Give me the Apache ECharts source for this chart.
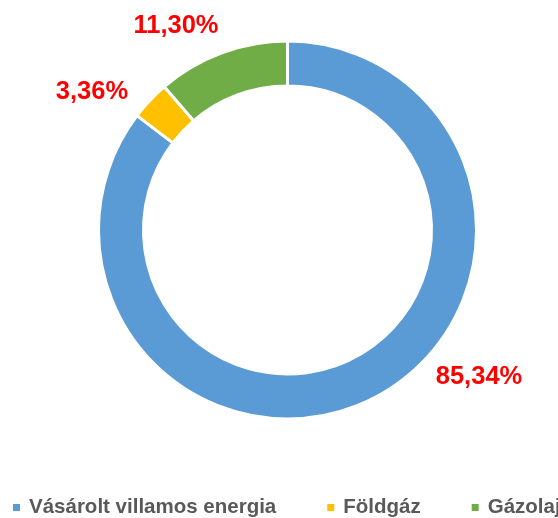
<!DOCTYPE html>
<html>
<head>
<meta charset="utf-8">
<script src="https://cdn.jsdelivr.net/npm/echarts@6/dist/echarts.min.js"></script>
<style>
  html, body { margin: 0; padding: 0; background: #fff; }
  #chart { width: 558px; height: 518px; }
</style>
</head>
<body>
<div id="chart"></div>
<script>
const categories = ['Vásárolt villamos energia', 'Földgáz', 'Gázolaj']
const values = [85.34, 3.36, 11.30]
const labels = ['85,34%', '3,36%', '11,30%']
const colors = ['#5B9BD5', '#FFC000', '#70AD47']
// where Excel put each data label (centre of text)
const labelPos = [[479, 377], [92, 92], [176, 26]]

const chart = echarts.init(document.getElementById('chart'))
const option = {
  animation: false,
  color: colors,
  legend: {
    top: 497,
    left: 11,
    width: 620,
    padding: 0,
    itemWidth: 9,
    itemHeight: 9,
    itemGap: 49,
    icon: 'rect',
    textStyle: {
      fontFamily: 'Liberation Sans',
      fontWeight: 'bold',
      fontSize: 20.5,
      color: '#595959',
      padding: [0, 0, 0, 3]
    },
    data: categories
  },
  series: [{
    type: 'pie',
    center: [287.5, 230],
    radius: [144, 189],
    startAngle: 90,
    clockwise: true,
    itemStyle: { borderColor: '#fff', borderWidth: 3 },
    label: {
      show: true,
      position: 'outside',
      formatter: p => labels[p.dataIndex],
      fontFamily: 'Liberation Sans',
      fontWeight: 'bold',
      fontSize: 25.5,
      color: '#FF0000'
    },
    labelLine: { show: false },
    labelLayout: p => ({
      x: labelPos[p.dataIndex][0],
      y: labelPos[p.dataIndex][1],
      align: 'center',
      verticalAlign: 'middle'
    }),
    data: categories.map((c, i) => ({ name: c, value: values[i] }))
  }]
}
chart.setOption(option)
</script>
</body>
</html>
